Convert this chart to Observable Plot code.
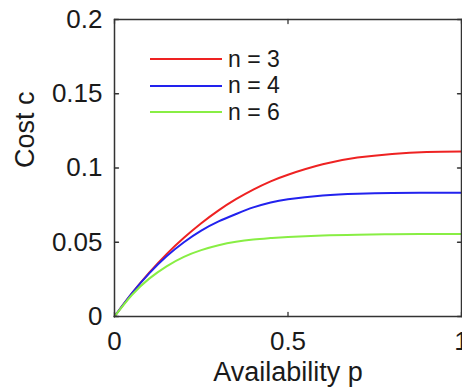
<!DOCTYPE html>
<html><head><meta charset="utf-8">
<script src="https://cdn.jsdelivr.net/npm/d3@7"></script>
<script src="https://cdn.jsdelivr.net/npm/@observablehq/plot@0.6"></script>
<style>
body{margin:0;background:#fff;}
#wrap{position:relative;width:462px;height:389px;overflow:hidden;font-family:"Liberation Sans",Arial,sans-serif;}
#legend{position:absolute;left:150px;top:46px;}
.row{display:flex;align-items:center;height:26.5px;font-size:23px;color:#1a1a1a;white-space:pre;}
.row svg{margin-right:6px;display:block}
</style></head><body><div id="wrap"></div>
<script>
// Availability p sample positions
const pValues = [0, 0.05, 0.1, 0.15, 0.2, 0.25, 0.3, 0.35, 0.4, 0.45, 0.5, 0.6, 0.7, 0.8, 0.9, 1.0];
// Cost c
const costN3 = [0, 0.0155, 0.0295, 0.042, 0.053, 0.0628, 0.0715, 0.079, 0.0855, 0.091, 0.0955, 0.1025, 0.107, 0.1095, 0.1108, 0.1111];
const costN4 = [0, 0.0155, 0.029, 0.0405, 0.050, 0.0578, 0.0640, 0.0690, 0.0735, 0.0768, 0.0790, 0.0815, 0.0827, 0.0832, 0.0833, 0.0833];
const costN6 = [0, 0.0145, 0.0255, 0.0338, 0.0402, 0.0447, 0.0480, 0.0503, 0.0518, 0.0528, 0.0536, 0.0546, 0.0551, 0.0554, 0.0555, 0.0555];
const seriesNames = ["n = 3", "n = 4", "n = 6"];
const seriesColors = ["#ee2222", "#2222ee", "#88ee44"];
const xTicks = [0, 0.5, 1];
const yTicks = [0, 0.05, 0.1, 0.15, 0.2];
const xLabel = "Availability p";
const yLabel = "Cost c";

const seriesValues = [costN3, costN4, costN6];
const rows = [];
seriesNames.forEach((n, k) => pValues.forEach((p, i) => rows.push({p, c: seriesValues[k][i], n})));

const tickShape = {draw(ctx, l) { ctx.moveTo(0, 0); ctx.lineTo(0, -l); }};
const tickStyle = {length: 4, anchor: "start", shape: tickShape, stroke: "#333", strokeWidth: 1.3};
const ink = "#1a1a1a";
const fmt = d => String(d);

const chart = Plot.plot({
  width: 462,
  height: 389,
  marginLeft: 114,
  marginRight: 1,
  marginTop: 19,
  marginBottom: 73,
  style: {fontFamily: "Liberation Sans, Arial, sans-serif", color: ink, background: "#fff"},
  x: {domain: [0, 1]},
  y: {domain: [0, 0.2]},
  color: {domain: seriesNames, range: seriesColors},
  marks: [
    Plot.line(rows, {x: "p", y: "c", z: "n", stroke: "n", strokeWidth: 2, curve: "natural"}),
    Plot.frame({stroke: "#333", strokeWidth: 1.5}),
    Plot.vector(xTicks, {x: d => d, frameAnchor: "bottom", rotate: 0, ...tickStyle}),
    Plot.vector(xTicks, {x: d => d, frameAnchor: "top", rotate: 180, ...tickStyle}),
    Plot.vector(yTicks, {y: d => d, frameAnchor: "left", rotate: 90, ...tickStyle}),
    Plot.vector(yTicks, {y: d => d, frameAnchor: "right", rotate: -90, ...tickStyle}),
    Plot.axisX({ticks: xTicks, tickFormat: fmt, tickSize: 0, tickPadding: 15, fontSize: 26, label: null, fill: ink}),
    Plot.axisY({ticks: yTicks, tickFormat: fmt, tickSize: 0, tickPadding: 12, fontSize: 26, label: null, fill: ink}),
    Plot.text([xLabel], {text: d => d, frameAnchor: "bottom", dy: 45, lineAnchor: "top", fontSize: 27, fill: ink}),
    Plot.text([yLabel], {text: d => d, frameAnchor: "left", dx: -89, rotate: -90, lineAnchor: "middle", fontSize: 27, fill: ink})
  ]
});

const wrap = document.getElementById("wrap");
wrap.appendChild(chart);
const legend = document.createElement("div");
legend.id = "legend";
seriesNames.forEach((n, k) => {
  const row = document.createElement("div");
  row.className = "row";
  row.innerHTML = `<svg width="72" height="4"><line x1="0" y1="2" x2="72" y2="2" stroke="${seriesColors[k]}" stroke-width="2"/></svg><span>${n}</span>`;
  legend.appendChild(row);
});
wrap.appendChild(legend);
</script>
</body></html>
